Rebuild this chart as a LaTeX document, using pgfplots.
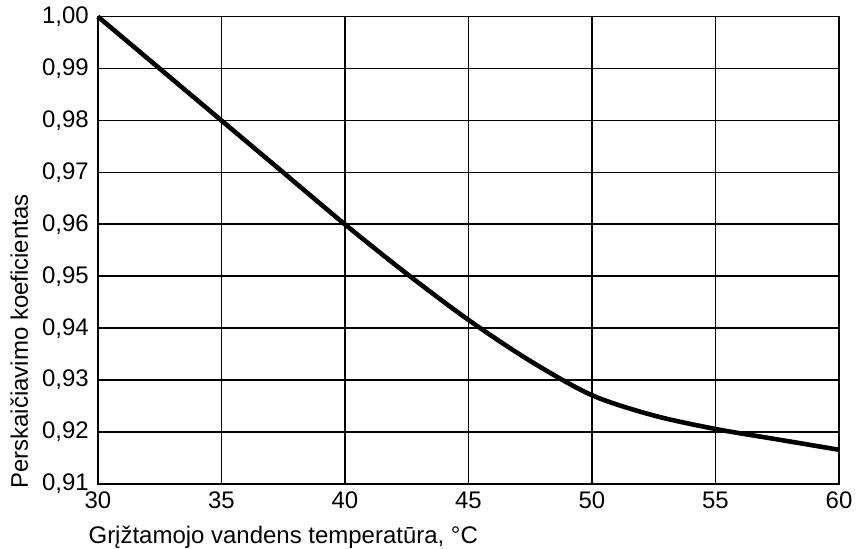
\documentclass[border=0pt]{standalone}
\usepackage{fontspec}
\setmainfont{Liberation Sans}
\usepackage{pgfplots}
\pgfplotsset{compat=1.18}

\begin{document}
\begin{tikzpicture}
\begin{axis}[
  width=371pt, height=234pt, scale only axis,
  xmin=30, xmax=60, ymin=0.91, ymax=1.00,
  xtick={30,35,...,60},
  ytick={0.91,0.92,0.93,0.94,0.95,0.96,0.97,0.98,0.99,1.00},
  major tick length=0pt,
  grid=major,
  grid style={black, line width=0.85pt},
  axis line style={black, line width=0.85pt},
  tick label style={font=\fontsize{12}{14}\selectfont},
  /pgf/number format/assume math mode=true,
  yticklabel style={/pgf/number format/fixed, /pgf/number format/fixed zerofill,
    /pgf/number format/precision=2, /pgf/number format/use comma, xshift=-1pt},
  xticklabel style={/pgf/number format/fixed, /pgf/number format/precision=0, yshift=-0.5pt},
  xtick pos=bottom, ytick pos=left,
  xlabel={Grįžtamojo vandens temperatūra, °C},
  ylabel={Perskaičiavimo koeficientas},
  label style={font=\fontsize{12}{14}\selectfont, inner sep=0pt},
  xlabel style={at={(axis description cs:-0.013,-0.09)}, anchor=north west},
  ylabel style={at={(axis description cs:-0.106,-0.011)}, anchor=west},
  clip=false,
]
\addplot[black, line width=2.3pt, smooth] coordinates {
  (30,1.000) (32.5,0.990) (35,0.980) (37.5,0.970) (40,0.960)
  (42.5,0.9505) (45,0.9416) (47.5,0.9337) (50,0.9271) (52.5,0.9232)
  (55,0.9206) (57.5,0.9186) (60,0.9166)
};
% left margin as in the reference
\path (axis description cs:-0.132,0.5);
\end{axis}
\end{tikzpicture}
\end{document}
